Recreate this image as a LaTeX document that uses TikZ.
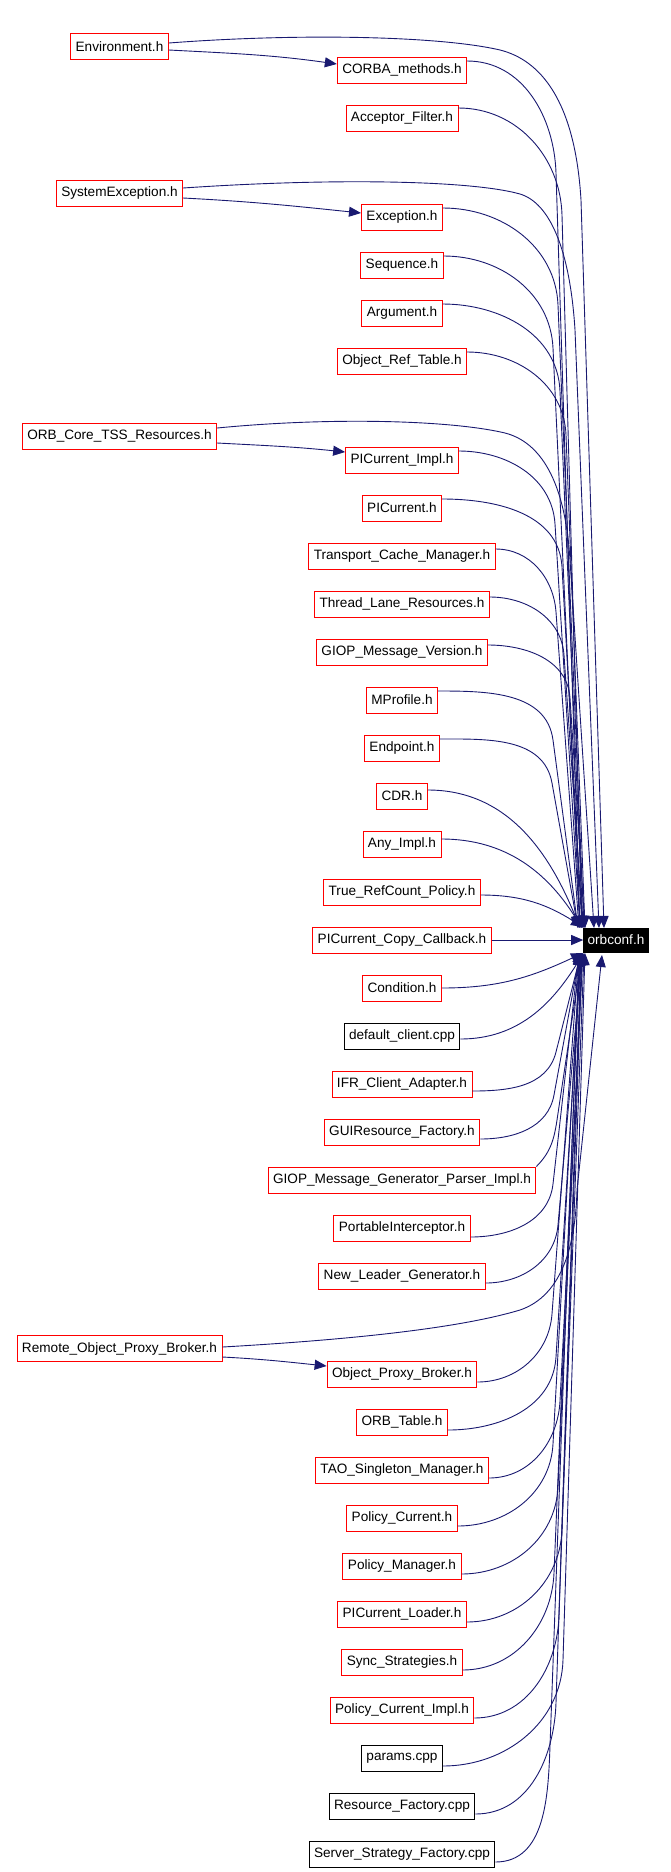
\documentclass[tikz,border=0pt]{standalone}
\usepackage{fontspec}
\setmainfont{Liberation Sans}
\usetikzlibrary{arrows.meta,calc}
\definecolor{edgeblue}{RGB}{25,25,112}
\newcommand\nfont{\fontsize{13.6}{16}\selectfont}
\newcommand\edg[6]{%
  \pgfmathsetmacro\edang{atan2(#6-#4,#3-#5)}%
  \draw[edge] (#1) to[out=#2,in=\edang] (#3,-#4) -- (#5,-#6);}
\newcommand\ed[6]{\edg{$(#1.east)+(0,#2)$}{0}{#3}{#4}{#5}{#6}}
\newcommand\en[5]{\draw[edge] ($(#1.east)+(0,#2)$) to[out=0,in=#5] (#3,-#4);}
\begin{document}
\begin{tikzpicture}[x=1pt,y=1pt,
  box/.style={draw=red,fill=white,line width=0.9pt,minimum height=26pt,inner xsep=5pt,inner ysep=0pt,font=\nfont,text=black},
  cppbox/.style={box,draw=black},
  edge/.style={draw=edgeblue,line width=0.9pt,-{Triangle[length=12pt,width=10pt]}}]
\useasboundingbox (0,0) rectangle (670,-1872);
% left column
\node[box] (env) at (119.5,-46.5) {Environment.h};
\node[box] (sysex) at (119.5,-193) {SystemException.h};
\node[box] (orbcore) at (119.5,-436) {ORB\_Core\_TSS\_Resources.h};
\node[box] (remote) at (119.5,-1348.5) {Remote\_Object\_Proxy\_Broker.h};
% right column
\node[box] (corba) at (402,-70) {CORBA\_methods.h};
\node[box] (acc) at (402,-118) {Acceptor\_Filter.h};
\node[box] (exc) at (402,-217) {Exception.h};
\node[box] (seq) at (402,-265) {Sequence.h};
\node[box] (arg) at (402,-313) {Argument.h};
\node[box] (objref) at (402,-361) {Object\_Ref\_Table.h};
\node[box] (pcimpl) at (402,-460) {PICurrent\_Impl.h};
\node[box] (pc) at (402,-508) {PICurrent.h};
\node[box] (tcm) at (402,-556) {Transport\_Cache\_Manager.h};
\node[box] (tlr) at (402,-604) {Thread\_Lane\_Resources.h};
\node[box] (gmv) at (402,-652) {GIOP\_Message\_Version.h};
\node[box] (mprof) at (402,-700) {MProfile.h};
\node[box] (endp) at (402,-748) {Endpoint.h};
\node[box] (cdr) at (402,-796) {CDR.h};
\node[box] (any) at (402,-844) {Any\_Impl.h};
\node[box] (trc) at (402,-892) {True\_RefCount\_Policy.h};
\node[box] (pcc) at (402,-940) {PICurrent\_Copy\_Callback.h};
\node[box] (cond) at (402,-988) {Condition.h};
\node[cppbox] (dc) at (402,-1036) {default\_client.cpp};
\node[box] (ifr) at (402,-1084) {IFR\_Client\_Adapter.h};
\node[box] (gui) at (402,-1132) {GUIResource\_Factory.h};
\node[box] (gmg) at (402,-1180) {GIOP\_Message\_Generator\_Parser\_Impl.h};
\node[box] (pi) at (402,-1228) {PortableInterceptor.h};
\node[box] (nlg) at (402,-1276) {New\_Leader\_Generator.h};
\node[box] (opb) at (402,-1374) {Object\_Proxy\_Broker.h};
\node[box] (orbt) at (402,-1422) {ORB\_Table.h};
\node[box] (tao) at (402,-1470) {TAO\_Singleton\_Manager.h};
\node[box] (polc) at (402,-1518) {Policy\_Current.h};
\node[box] (polm) at (402,-1566) {Policy\_Manager.h};
\node[box] (pcl) at (402,-1614) {PICurrent\_Loader.h};
\node[box] (sync) at (402,-1662) {Sync\_Strategies.h};
\node[box] (pci) at (402,-1710) {Policy\_Current\_Impl.h};
\node[cppbox] (params) at (402,-1758) {params.cpp};
\node[cppbox] (rf) at (402,-1806) {Resource\_Factory.cpp};
\node[cppbox] (ssf) at (402,-1854) {Server\_Strategy\_Factory.cpp};
% target
\node[box,fill=black,draw=black,text=white,minimum height=24pt,inner xsep=4pt] (orbconf) at (616,-940) {orbconf.h};
% left -> right short edges
\draw[edge] ($(env.east)+(0,-3.5)$) to[out=-3,in=172] ($(corba.west)+(0,6)$);
\draw[edge] ($(sysex.east)+(0,-5)$) to[out=-3,in=174] ($(exc.west)+(0,4)$);
\draw[edge] ($(orbcore.east)+(0,-7)$) to[out=-3,in=174] ($(pcimpl.west)+(0,8)$);
\draw[edge] ($(remote.east)+(0,-8.5)$) to[out=-3,in=174] ($(opb.west)+(0,8)$);
% left long edges
\draw[edge] ($(env.east)+(0,3.5)$) .. controls (300,-33) and (440,-36) .. (500,-50)
  .. controls (540,-60) and (575,-100) .. (581,-200) -- (604,-928);
\draw[edge] ($(sysex.east)+(0,5)$) .. controls (330,-178) and (470,-180) .. (520,-194)
  .. controls (550,-203) and (570,-250) .. (575,-330) -- (599,-928);
\draw[edge] ($(orbcore.east)+(0,8)$) .. controls (330,-417) and (450,-420) .. (505,-433)
  .. controls (540,-442) and (565,-480) .. (570,-560) -- (594,-928);
\draw[edge] ($(remote.east)+(0,1.5)$) .. controls (380,-1338) and (470,-1325) .. (520,-1310)
  .. controls (555,-1298) and (575,-1260) .. (577,-1190) -- (602,-955);
% right column edges (above)
\ed{corba}{9}{556}{173}{580}{928}
\ed{acc}{10}{562}{215}{582}{928}
\ed{exc}{9}{558}{305}{584}{928}
\ed{seq}{9}{553}{348}{580}{928}
\ed{arg}{9}{560}{391}{583}{928}
\ed{objref}{9}{566}{435}{585}{928}
\ed{pcimpl}{9}{555}{524}{580}{928}
\ed{pc}{9}{562}{567}{582}{928}
\ed{tcm}{7}{556}{612}{579}{928}
\ed{tlr}{7}{564}{655}{583}{928}
\ed{gmv}{7}{570}{698}{585}{928}
\ed{mprof}{9}{553}{740}{578}{928}
\ed{endp}{9}{552}{783}{578}{928}
\en{cdr}{6}{580}{928}{112}
\en{any}{5}{582}{928}{122}
\en{trc}{-3}{583}{927}{148}
\draw[edge] (pcc) -- (orbconf);
% right column edges (below)
\en{cond}{0}{583}{953}{205}
\en{dc}{-3}{583}{954}{238}
\ed{ifr}{-7}{556}{1052}{581}{953}
\ed{gui}{-7}{554}{1095}{580}{953}
\edg{gmg.north east}{45}{557}{1120}{582}{953}
\ed{pi}{-9}{553}{1184}{579}{953}
\ed{nlg}{-7}{558}{1225}{582}{953}
\ed{opb}{-8}{552}{1314}{579}{953}
\ed{orbt}{-8}{556}{1357}{581}{953}
\ed{tao}{-8}{560}{1401}{583}{953}
\ed{polc}{-8}{553}{1444}{580}{953}
\ed{polm}{-8}{558}{1487}{582}{953}
\ed{pcl}{-8}{562}{1530}{584}{953}
\ed{sync}{-8}{554}{1573}{580}{953}
\ed{pci}{-8}{559}{1616}{582}{953}
\ed{params}{-8}{563}{1660}{585}{953}
\ed{rf}{-8}{556}{1703}{581}{953}
\ed{ssf}{-8}{550}{1746}{579}{953}
\end{tikzpicture}
\end{document}
